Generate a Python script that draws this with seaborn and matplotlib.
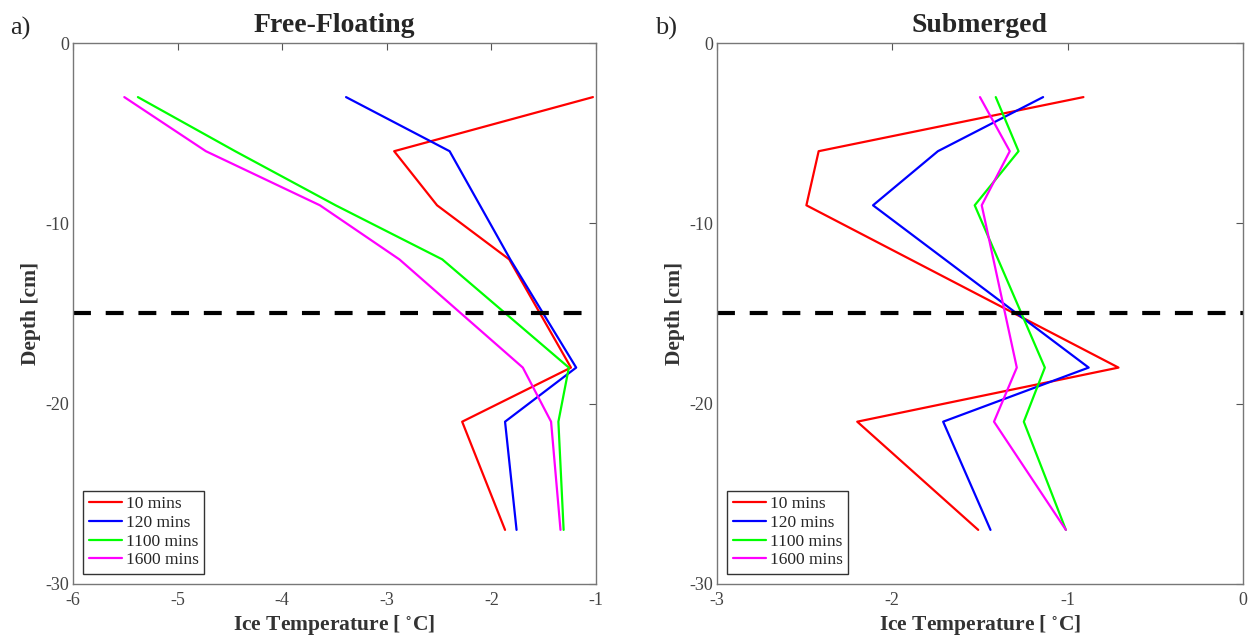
import numpy as np
import pandas as pd
import matplotlib
matplotlib.use('Agg')
import matplotlib.pyplot as plt
import seaborn as sns

# Depth of each thermistor [cm]
depth_free = [-3, -6, -9, -12, -18, -21, -27]
depth_sub = [-3, -6, -9, -18, -21, -27]

times = ['10 mins', '120 mins', '1100 mins', '1600 mins']
colors = ['#ff0000', '#0000ff', '#00ff00', '#ff00ff']

# Free-floating ice temperatures [C]
free_10 = [-1.03, -2.93, -2.52, -1.83, -1.24, -2.28, -1.87]
free_120 = [-3.39, -2.40, -2.11, -1.82, -1.19, -1.87, -1.76]
free_1100 = [-5.38, -4.45, -3.49, -2.47, -1.26, -1.36, -1.31]
free_1600 = [-5.51, -4.73, -3.64, -2.88, -1.70, -1.43, -1.34]

# Submerged ice temperatures [C]
sub_10 = [-0.91, -2.42, -2.49, -0.71, -2.20, -1.51]
sub_120 = [-1.14, -1.74, -2.11, -0.88, -1.71, -1.44]
sub_1100 = [-1.41, -1.28, -1.53, -1.13, -1.25, -1.01]
sub_1600 = [-1.50, -1.33, -1.49, -1.29, -1.42, -1.01]

interface_depth = -15


def make_df(depths, series):
    rows = []
    for t, vals in zip(times, series):
        for d, v in zip(depths, vals):
            rows.append({'Depth': d, 'Temp': v, 'Time': t})
    return pd.DataFrame(rows)


df_free = make_df(depth_free, [free_10, free_120, free_1100, free_1600])
df_sub = make_df(depth_sub, [sub_10, sub_120, sub_1100, sub_1600])

sns.set_style('white')
plt.rcParams['font.family'] = ['Liberation Serif', 'DejaVu Serif']
plt.rcParams['mathtext.fontset'] = 'stix'
plt.rcParams['axes.unicode_minus'] = False

fig = plt.figure(figsize=(12.53, 6.39), dpi=100)
ax1 = fig.add_axes([0.0583, 0.0861, 0.4174, 0.8466])
ax2 = fig.add_axes([0.5722, 0.0861, 0.4198, 0.8466])

panels = [
    (ax1, df_free, 'Free-Floating', (-6, -1), np.arange(-6, 0), 'a)', 0.008),
    (ax2, df_sub, 'Submerged', (-3, 0), np.arange(-3, 1), 'b)', 0.523),
]

for ax, df, title, xlim, xticks, tag, tag_x in panels:
    sns.lineplot(data=df, x='Temp', y='Depth', hue='Time', hue_order=times,
                 palette=colors, sort=False, estimator=None, linewidth=1.6, ax=ax)
    ax.axhline(interface_depth, color='black', linewidth=3, linestyle=(0, (4.3, 3.55)))

    ax.set_xlim(*xlim)
    ax.set_ylim(-30, 0)
    ax.set_xticks(xticks)
    ax.set_yticks([-30, -20, -10, 0])
    ax.tick_params(direction='in', length=5, width=0.8, colors='#555555',
                   labelsize=13, top=True, right=True, labelcolor='#444444')
    ax.tick_params(axis='x', pad=6)
    ax.tick_params(axis='y', pad=3)
    for s in ax.spines.values():
        s.set_color('#777777')
        s.set_linewidth(1.0)

    ax.set_title(title, fontsize=20, fontweight='bold', pad=8)
    ax.set_xlabel('Ice Temperature [ $^{\\circ}$C]', fontsize=15.5, fontweight='bold',
                  color='#333333', labelpad=3)
    ax.set_ylabel('Depth [cm]', fontsize=15.5, fontweight='bold', color='#333333', labelpad=3)

    ax.legend(loc='lower left', fontsize=12.5, frameon=True, fancybox=False,
              edgecolor='#333333', framealpha=1, labelspacing=0.15,
              handlelength=1.9, handletextpad=0.25, borderpad=0.3,
              borderaxespad=0.6)

    fig.text(tag_x, 0.955, tag, fontsize=19, ha='left', va='center')

fig.savefig('out.png', dpi=100)
